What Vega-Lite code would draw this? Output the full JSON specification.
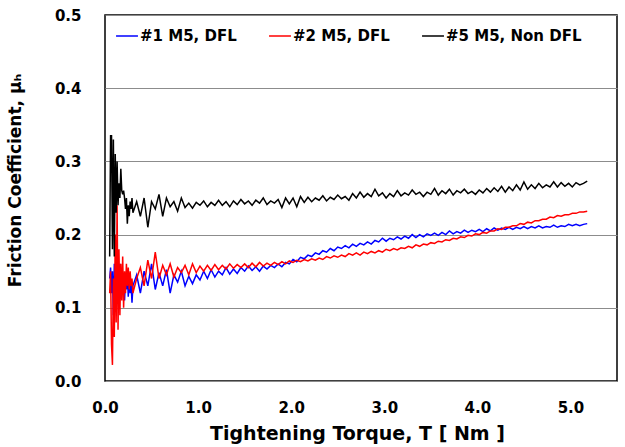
{
  "$schema": "https://vega.github.io/schema/vega-lite/v6.json",
  "autosize": {"type": "none"},
  "padding": {"left": 105, "top": 15, "right": 8, "bottom": 66},
  "width": 512,
  "height": 366,
  "config": {
    "font": "DejaVu Sans",
    "view": {"stroke": "#000000", "strokeWidth": 1.5},
    "background": "#ffffff"
  },
  "data": {"values": [
    {"x":0.05,"a":0.14,"b":0.12,"c":0.17},
    {"x":0.06,"a":0.155,"b":0.15,"c":0.335},
    {"x":0.07,"a":0.12,"b":0.05,"c":0.335},
    {"x":0.08,"a":0.15,"b":0.022,"c":0.18},
    {"x":0.09,"a":0.09,"b":0.14,"c":0.33},
    {"x":0.10,"a":0.16,"b":0.06,"c":0.17},
    {"x":0.11,"a":0.10,"b":0.20,"c":0.31},
    {"x":0.12,"a":0.17,"b":0.08,"c":0.23},
    {"x":0.13,"a":0.11,"b":0.24,"c":0.30},
    {"x":0.14,"a":0.155,"b":0.07,"c":0.24},
    {"x":0.15,"a":0.12,"b":0.18,"c":0.27},
    {"x":0.16,"a":0.16,"b":0.09,"c":0.25},
    {"x":0.17,"a":0.115,"b":0.16,"c":0.29},
    {"x":0.18,"a":0.15,"b":0.11,"c":0.26},
    {"x":0.19,"a":0.12,"b":0.17,"c":0.255},
    {"x":0.20,"a":0.145,"b":0.10,"c":0.26},
    {"x":0.21,"a":0.11,"b":0.15,"c":0.25},
    {"x":0.22,"a":0.14,"b":0.12,"c":0.235},
    {"x":0.23,"a":0.125,"b":0.16,"c":0.25},
    {"x":0.24,"a":0.15,"b":0.13,"c":0.215},
    {"x":0.25,"a":0.115,"b":0.155,"c":0.24},
    {"x":0.26,"a":0.14,"b":0.125,"c":0.225},
    {"x":0.27,"a":0.12,"b":0.15,"c":0.245},
    {"x":0.28,"a":0.135,"b":0.13,"c":0.235},
    {"x":0.29,"a":0.107,"b":0.14,"c":0.25},
    {"x":0.30,"a":0.13,"b":0.12,"c":0.23},
    {"x":0.34,"a":0.145,"b":0.14,"c":0.245},
    {"x":0.38,"a":0.12,"b":0.155,"c":0.225},
    {"x":0.42,"a":0.15,"b":0.13,"c":0.25},
    {"x":0.46,"a":0.13,"b":0.165,"c":0.21},
    {"x":0.50,"a":0.16,"b":0.14,"c":0.245},
    {"x":0.54,"a":0.125,"b":0.176,"c":0.235},
    {"x":0.58,"a":0.148,"b":0.14,"c":0.255},
    {"x":0.62,"a":0.13,"b":0.158,"c":0.225},
    {"x":0.66,"a":0.152,"b":0.145,"c":0.25},
    {"x":0.70,"a":0.12,"b":0.16,"c":0.238},
    {"x":0.74,"a":0.145,"b":0.142,"c":0.245},
    {"x":0.78,"a":0.135,"b":0.155,"c":0.232},
    {"x":0.82,"a":0.15,"b":0.148,"c":0.25},
    {"x":0.86,"a":0.13,"b":0.158,"c":0.237},
    {"x":0.90,"a":0.143,"b":0.145,"c":0.243},
    {"x":0.94,"a":0.133,"b":0.16,"c":0.236},
    {"x":0.98,"a":0.145,"b":0.148,"c":0.244},
    {"x":1.02,"a":0.138,"b":0.157,"c":0.24},
    {"x":1.06,"a":0.15,"b":0.15,"c":0.246},
    {"x":1.10,"a":0.14,"b":0.158,"c":0.238},
    {"x":1.14,"a":0.152,"b":0.151,"c":0.244},
    {"x":1.18,"a":0.142,"b":0.159,"c":0.24},
    {"x":1.22,"a":0.15,"b":0.152,"c":0.247},
    {"x":1.26,"a":0.145,"b":0.158,"c":0.24},
    {"x":1.30,"a":0.155,"b":0.153,"c":0.245},
    {"x":1.34,"a":0.146,"b":0.16,"c":0.238},
    {"x":1.38,"a":0.153,"b":0.154,"c":0.246},
    {"x":1.42,"a":0.147,"b":0.159,"c":0.241},
    {"x":1.46,"a":0.155,"b":0.155,"c":0.248},
    {"x":1.50,"a":0.15,"b":0.16,"c":0.242},
    {"x":1.54,"a":0.157,"b":0.155,"c":0.246},
    {"x":1.58,"a":0.151,"b":0.161,"c":0.24},
    {"x":1.62,"a":0.156,"b":0.156,"c":0.247},
    {"x":1.66,"a":0.15,"b":0.162,"c":0.243},
    {"x":1.70,"a":0.157,"b":0.157,"c":0.25},
    {"x":1.74,"a":0.153,"b":0.161,"c":0.241},
    {"x":1.78,"a":0.158,"b":0.158,"c":0.246},
    {"x":1.82,"a":0.155,"b":0.162,"c":0.243},
    {"x":1.86,"a":0.16,"b":0.159,"c":0.248},
    {"x":1.90,"a":0.156,"b":0.163,"c":0.237},
    {"x":1.94,"a":0.162,"b":0.16,"c":0.25},
    {"x":1.98,"a":0.16,"b":0.164,"c":0.242},
    {"x":2.02,"a":0.166,"b":0.162,"c":0.25},
    {"x":2.06,"a":0.163,"b":0.165,"c":0.238},
    {"x":2.10,"a":0.169,"b":0.163,"c":0.252},
    {"x":2.14,"a":0.167,"b":0.166,"c":0.244},
    {"x":2.18,"a":0.172,"b":0.164,"c":0.251},
    {"x":2.22,"a":0.17,"b":0.167,"c":0.245},
    {"x":2.26,"a":0.175,"b":0.165,"c":0.25},
    {"x":2.30,"a":0.173,"b":0.168,"c":0.247},
    {"x":2.34,"a":0.178,"b":0.166,"c":0.253},
    {"x":2.38,"a":0.176,"b":0.17,"c":0.246},
    {"x":2.42,"a":0.181,"b":0.168,"c":0.251},
    {"x":2.46,"a":0.178,"b":0.171,"c":0.248},
    {"x":2.50,"a":0.183,"b":0.169,"c":0.254},
    {"x":2.54,"a":0.181,"b":0.172,"c":0.249},
    {"x":2.58,"a":0.185,"b":0.17,"c":0.252},
    {"x":2.62,"a":0.182,"b":0.174,"c":0.247},
    {"x":2.66,"a":0.187,"b":0.172,"c":0.256},
    {"x":2.70,"a":0.184,"b":0.175,"c":0.25},
    {"x":2.74,"a":0.188,"b":0.172,"c":0.258},
    {"x":2.78,"a":0.186,"b":0.176,"c":0.251},
    {"x":2.82,"a":0.19,"b":0.174,"c":0.256},
    {"x":2.86,"a":0.187,"b":0.177,"c":0.252},
    {"x":2.90,"a":0.192,"b":0.175,"c":0.262},
    {"x":2.94,"a":0.19,"b":0.178,"c":0.253},
    {"x":2.98,"a":0.195,"b":0.176,"c":0.257},
    {"x":3.02,"a":0.191,"b":0.18,"c":0.25},
    {"x":3.06,"a":0.195,"b":0.178,"c":0.256},
    {"x":3.10,"a":0.193,"b":0.181,"c":0.252},
    {"x":3.14,"a":0.197,"b":0.179,"c":0.26},
    {"x":3.18,"a":0.194,"b":0.182,"c":0.253},
    {"x":3.22,"a":0.198,"b":0.181,"c":0.257},
    {"x":3.26,"a":0.195,"b":0.184,"c":0.254},
    {"x":3.30,"a":0.2,"b":0.182,"c":0.261},
    {"x":3.34,"a":0.196,"b":0.186,"c":0.255},
    {"x":3.38,"a":0.2,"b":0.184,"c":0.258},
    {"x":3.42,"a":0.197,"b":0.187,"c":0.252},
    {"x":3.46,"a":0.201,"b":0.186,"c":0.258},
    {"x":3.50,"a":0.199,"b":0.189,"c":0.255},
    {"x":3.54,"a":0.202,"b":0.188,"c":0.263},
    {"x":3.58,"a":0.199,"b":0.191,"c":0.254},
    {"x":3.62,"a":0.203,"b":0.19,"c":0.26},
    {"x":3.66,"a":0.2,"b":0.193,"c":0.256},
    {"x":3.70,"a":0.205,"b":0.192,"c":0.262},
    {"x":3.74,"a":0.201,"b":0.195,"c":0.254},
    {"x":3.78,"a":0.204,"b":0.194,"c":0.26},
    {"x":3.82,"a":0.202,"b":0.197,"c":0.257},
    {"x":3.86,"a":0.206,"b":0.196,"c":0.262},
    {"x":3.90,"a":0.203,"b":0.199,"c":0.256},
    {"x":3.94,"a":0.206,"b":0.198,"c":0.259},
    {"x":3.98,"a":0.204,"b":0.201,"c":0.255},
    {"x":4.02,"a":0.207,"b":0.2,"c":0.261},
    {"x":4.06,"a":0.204,"b":0.203,"c":0.257},
    {"x":4.10,"a":0.208,"b":0.202,"c":0.263},
    {"x":4.14,"a":0.205,"b":0.205,"c":0.258},
    {"x":4.18,"a":0.209,"b":0.205,"c":0.264},
    {"x":4.22,"a":0.206,"b":0.208,"c":0.259},
    {"x":4.26,"a":0.209,"b":0.207,"c":0.266},
    {"x":4.30,"a":0.207,"b":0.21,"c":0.258},
    {"x":4.34,"a":0.21,"b":0.21,"c":0.265},
    {"x":4.38,"a":0.207,"b":0.212,"c":0.26},
    {"x":4.42,"a":0.21,"b":0.212,"c":0.268},
    {"x":4.46,"a":0.208,"b":0.215,"c":0.261},
    {"x":4.50,"a":0.211,"b":0.214,"c":0.272},
    {"x":4.54,"a":0.208,"b":0.217,"c":0.262},
    {"x":4.58,"a":0.211,"b":0.216,"c":0.268},
    {"x":4.62,"a":0.209,"b":0.219,"c":0.263},
    {"x":4.66,"a":0.212,"b":0.219,"c":0.27},
    {"x":4.70,"a":0.209,"b":0.221,"c":0.264},
    {"x":4.74,"a":0.211,"b":0.221,"c":0.268},
    {"x":4.78,"a":0.21,"b":0.224,"c":0.265},
    {"x":4.82,"a":0.213,"b":0.223,"c":0.272},
    {"x":4.86,"a":0.21,"b":0.226,"c":0.265},
    {"x":4.90,"a":0.212,"b":0.225,"c":0.271},
    {"x":4.94,"a":0.211,"b":0.227,"c":0.266},
    {"x":4.98,"a":0.214,"b":0.227,"c":0.27},
    {"x":5.02,"a":0.212,"b":0.229,"c":0.265},
    {"x":5.06,"a":0.214,"b":0.229,"c":0.271},
    {"x":5.10,"a":0.212,"b":0.231,"c":0.268},
    {"x":5.14,"a":0.214,"b":0.231,"c":0.27},
    {"x":5.18,"a":0.215,"b":0.232,"c":0.273}
  ]},
  "transform": [
    {"fold": ["a", "b", "c"], "as": ["series", "y"]}
  ],
  "mark": {"type": "line", "strokeWidth": 1.5, "interpolate": "linear"},
  "encoding": {
    "x": {
      "field": "x", "type": "quantitative",
      "scale": {"domain": [0, 5.5], "nice": false},
      "axis": {
        "title": "Tightening Torque, T [ Nm ]",
        "values": [0, 1, 2, 3, 4, 5],
        "format": ".1f",
        "grid": false,
        "ticks": false,
        "domain": false,
        "labelFlush": false,
        "labelFont": "DejaVu Sans",
        "labelFontSize": 15,
        "labelFontWeight": "bold",
        "labelColor": "#000000",
        "labelPadding": 19,
        "titleFont": "DejaVu Sans",
        "titleFontSize": 19,
        "titleFontWeight": "bold",
        "titleColor": "#000000",
        "titlePadding": 9,
        "titleX": 252
      }
    },
    "y": {
      "field": "y", "type": "quantitative",
      "scale": {"domain": [0, 0.5], "nice": false},
      "axis": {
        "title": "Friction Coefficient, μₕ",
        "values": [0, 0.1, 0.2, 0.3, 0.4, 0.5],
        "format": ".1f",
        "grid": true,
        "gridColor": "#8c8c8c",
        "gridWidth": 1,
        "gridOpacity": 1,
        "ticks": false,
        "domain": false,
        "labelFlush": false,
        "labelFont": "DejaVu Sans",
        "labelFontSize": 15,
        "labelFontWeight": "bold",
        "labelColor": "#000000",
        "labelPadding": 24,
        "titleFont": "DejaVu Sans",
        "titleFontSize": 17,
        "titleFontWeight": "bold",
        "titleColor": "#000000",
        "titlePadding": 30,
        "titleY": 165
      }
    },
    "color": {
      "field": "series", "type": "nominal",
      "scale": {"domain": ["a", "b", "c"], "range": ["#0000ff", "#ff0000", "#000000"]},
      "legend": {
        "title": null,
        "orient": "none",
        "legendX": 10,
        "legendY": 9,
        "direction": "horizontal",
        "symbolType": "stroke",
        "symbolSize": 480,
        "symbolStrokeWidth": 1.5,
        "labelExpr": "datum.value == 'a' ? '#1 M5, DFL' : datum.value == 'b' ? '#2 M5, DFL' : '#5 M5, Non DFL'",
        "labelFont": "DejaVu Sans",
        "labelFontSize": 15,
        "labelFontWeight": "bold",
        "labelColor": "#000000",
        "labelOffset": 1,
        "columnPadding": 29,
        "labelLimit": 300
      }
    }
  }
}
